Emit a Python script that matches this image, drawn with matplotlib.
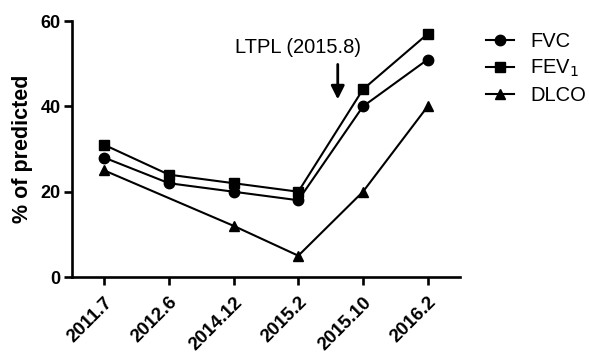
import matplotlib
matplotlib.use("Agg")
import matplotlib.pyplot as plt

plt.rcParams['font.family'] = ['Liberation Sans', 'DejaVu Sans']

dates = ['2011.7', '2012.6', '2014.12', '2015.2', '2015.10', '2016.2']
fvc = [28, 22, 20, 18, 40, 51]
fev1 = [31, 24, 22, 20, 44, 57]
# DLCO was not measured at 2012.6
dlco_idx = [0, 2, 3, 4, 5]
dlco = [25, 12, 5, 20, 40]

fig = plt.figure(figsize=(5.89, 3.52), dpi=100)
ax = fig.add_axes([0.122, 0.213, 0.659, 0.727])

x = list(range(len(dates)))
ax.plot(x, fvc, color='black', marker='o', markersize=7.5, lw=1.5, label='FVC')
ax.plot(x, fev1, color='black', marker='s', markersize=7.5, lw=1.5, label='FEV$_1$')
ax.plot(dlco_idx, dlco, color='black', marker='^', markersize=7.5, lw=1.5, label='DLCO')

ax.set_xlim(-0.5, 5.5)
ax.set_ylim(0, 60)
ax.set_yticks([0, 20, 40, 60])
ax.set_xticks(x)
ax.set_xticklabels(dates, rotation=45, ha='right', rotation_mode='anchor',
                   fontsize=13.5, fontweight='bold')
for lab in ax.get_yticklabels():
    lab.set_fontsize(13)
    lab.set_fontweight('bold')
ax.set_ylabel('% of predicted', fontsize=15.5, fontweight='bold')
ax.yaxis.set_label_coords(-0.1, 0.5)

for s in ['top', 'right']:
    ax.spines[s].set_visible(False)
for s in ['left', 'bottom']:
    ax.spines[s].set_linewidth(1.9)
ax.tick_params(width=1.9, length=6)
ax.tick_params(axis='x', pad=6)
ax.tick_params(axis='y', pad=2)

ax.annotate('', xy=(3.61, 41), xytext=(3.61, 50.5),
            arrowprops=dict(arrowstyle='-|>', color='black', lw=2, mutation_scale=20))
ax.text(3.0, 53.7, 'LTPL (2015.8)', ha='center', va='center', fontsize=14.5)

ax.legend(loc='upper left', bbox_to_anchor=(1.02, 1.03), frameon=False,
          fontsize=14.5, handlelength=1.4, handletextpad=0.8, labelspacing=0.35)

fig.savefig('out.png', dpi=100)
